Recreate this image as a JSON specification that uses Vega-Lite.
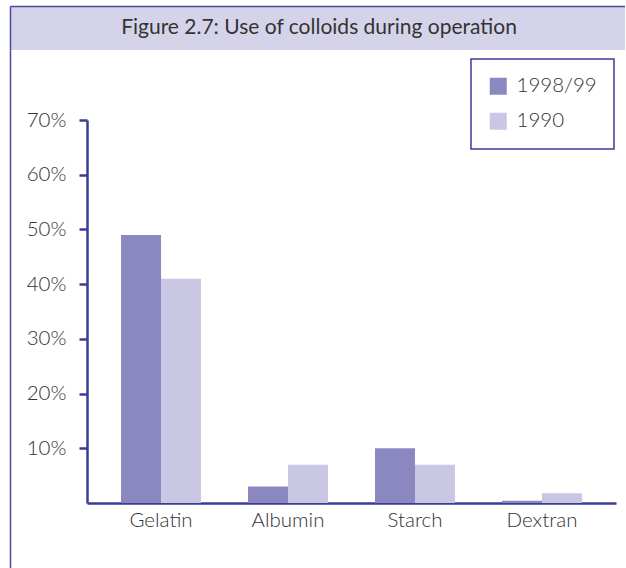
{
  "$schema": "https://vega.github.io/schema/vega-lite/v6.json",
  "background": "white",
  "padding": {"left": 10, "top": 6, "right": -3, "bottom": -4},
  "spacing": 0,
  "config": {
    "font": "Lato",
    "view": {"stroke": null},
    "axis": {
      "labelFont": "Lato",
      "labelFontWeight": 300,
      "labelFontSize": 20.5,
      "labelColor": "#333333",
      "domainColor": "#3b3b98",
      "domainWidth": 2.5,
      "tickColor": "#3b3b98",
      "tickWidth": 2.5,
      "grid": false,
      "title": null
    }
  },
  "vconcat": [
    {
      "width": 618,
      "height": 44,
      "view": {"fill": "#d5d3ea", "stroke": null},
      "data": {"values": [{"caption": "Figure 2.7: Use of colloids during operation"}]},
      "mark": {
        "type": "text",
        "font": "Lato",
        "fontSize": 21,
        "fontWeight": 400,
        "color": "#333333",
        "align": "center",
        "baseline": "middle"
      },
      "encoding": {
        "text": {"field": "caption", "type": "nominal"},
        "x": {
          "field": "caption",
          "type": "nominal",
          "scale": {"paddingInner": 0, "paddingOuter": 0},
          "axis": {"orient": "top", "labels": false, "ticks": false, "domainColor": "#4a4aa2", "domainWidth": 1.5}
        },
        "y": {
          "field": "caption",
          "type": "nominal",
          "scale": {"paddingInner": 0, "paddingOuter": 0},
          "axis": {"orient": "left", "labels": false, "ticks": false, "domainColor": "#4a4aa2", "domainWidth": 1.5}
        }
      }
    },
    {
      "width": 618,
      "height": 522,
      "data": {
        "values": [
          {"colloid": "Gelatin", "period": "1998/99", "share": 49},
          {"colloid": "Gelatin", "period": "1990", "share": 41},
          {"colloid": "Albumin", "period": "1998/99", "share": 3},
          {"colloid": "Albumin", "period": "1990", "share": 7},
          {"colloid": "Starch", "period": "1998/99", "share": 10},
          {"colloid": "Starch", "period": "1990", "share": 7},
          {"colloid": "Dextran", "period": "1998/99", "share": 0.4},
          {"colloid": "Dextran", "period": "1990", "share": 1.8}
        ]
      },
      "layer": [
        {
          "mark": {"type": "bar"},
          "encoding": {
            "x": {
              "field": "colloid",
              "type": "nominal",
              "sort": ["Gelatin", "Albumin", "Starch", "Dextran"],
              "scale": {"range": [77, 606], "paddingInner": 0.37, "paddingOuter": 0.268, "align": 0.5},
              "axis": {
                "orient": "bottom",
                "offset": -69,
                "labelAngle": 0,
                "ticks": false,
                "labelPadding": 7,
                "domainCap": "butt"
              }
            },
            "xOffset": {
              "field": "period",
              "type": "nominal",
              "sort": ["1998/99", "1990"],
              "scale": {"paddingInner": 0, "paddingOuter": 0}
            },
            "y": {
              "field": "share",
              "type": "quantitative",
              "scale": {"domain": [0, 70], "range": [453, 70], "nice": false, "zero": true},
              "axis": {
                "orient": "left",
                "offset": -77,
                "values": [10, 20, 30, 40, 50, 60, 70],
                "labelExpr": "datum.value + '%'",
                "tickSize": 8,
                "labelPadding": 13
              }
            },
            "color": {
              "field": "period",
              "type": "nominal",
              "scale": {"domain": ["1998/99", "1990"], "range": ["#8b87c0", "#cac7e4"]},
              "legend": {
                "title": null,
                "orient": "none",
                "legendX": 461,
                "legendY": 53,
                "direction": "vertical",
                "strokeColor": "#3b3b98",
                "padding": 17,
                "symbolType": "square",
                "symbolSize": 289,
                "symbolStrokeWidth": 0,
                "symbolOpacity": 1,
                "labelFont": "Lato",
                "labelFontWeight": 300,
                "labelFontSize": 20.5,
                "labelColor": "#333333",
                "labelOffset": 8,
                "rowPadding": 14,
                "encode": {"legend": {"update": {"strokeWidth": {"value": 1.5}}}}
              }
            }
          }
        },
        {
          "mark": {"type": "tick", "opacity": 0},
          "encoding": {
            "y": {
              "field": "share",
              "type": "quantitative",
              "axis": {
                "orient": "left",
                "offset": 0,
                "labels": false,
                "ticks": false,
                "domainColor": "#4a4aa2",
                "domainWidth": 1.5
              }
            }
          }
        }
      ],
      "resolve": {"scale": {"y": "independent"}, "axis": {"y": "independent"}}
    }
  ]
}
